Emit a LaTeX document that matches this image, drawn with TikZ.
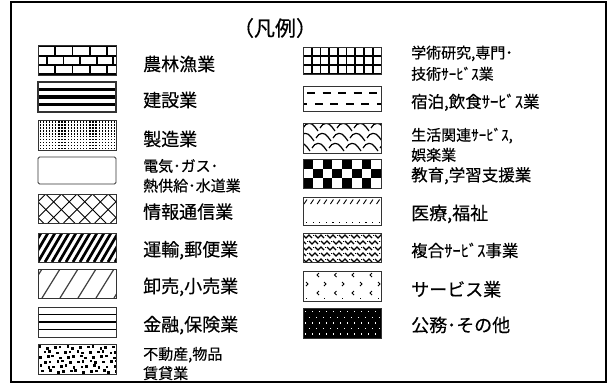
\documentclass[tikz,border=0pt]{standalone}
\usepackage{fontspec}
\setmainfont{Noto Sans CJK JP}[FakeBold=0.35]
\begin{document}
\begin{tikzpicture}[x=1pt,y=-1pt,
  sw/.style={draw=black!80, line width=0.9pt},
  lab/.style={anchor=base west, inner sep=0pt, font=\fontsize{18}{21}\selectfont},
  labsm/.style={anchor=base west, inner sep=0pt, font=\fontsize{15}{18}\selectfont},
  labr/.style={anchor=base west, inner sep=0pt, font=\fontsize{16.5}{19}\selectfont},
  pat/.style={line width=#1, line cap=butt},
  pat/.default=1pt]
\useasboundingbox (0,0) rectangle (614,391);
\fill[white] (0,0) rectangle (614,391);
\draw[line width=1.3pt] (11,2) rectangle (606,382);
\node[inner sep=0pt, font=\fontsize{21}{25}\selectfont] (title) at (275,28) {（凡例）};

% ---------- left column swatches ----------
% 1 brick
\begin{scope}
\clip (38,45) rectangle (116,75);
\foreach \y in {46.5,56,65,74.2} \draw[pat=1.7pt] (38,\y) -- (116,\y);
\foreach \x in {55,72.5,90,107} {\draw[pat=1.7pt] (\x,46.5) -- (\x,56); \draw[pat=1.7pt] (\x,65) -- (\x,74.2);}
\foreach \x in {46.7,63.5,80.3,97,113} {\draw[pat=1.7pt] (\x,56) -- (\x,65); \draw[pat=1.7pt] (\x,45) -- (\x,46.5);}
\end{scope}
\draw[sw] (38,45) rectangle (116,75);
% 2 construction stripes
\begin{scope}
\clip (38,82) rectangle (116,112);
\foreach \y in {89.5,97,104.5} \fill (38,\y-1.7) rectangle (116,\y+1.7);
\end{scope}
\draw[sw, line width=1.2pt] (38,82) rectangle (116,112);
% 3 dots
\begin{scope}
\clip (38,120) rectangle (116,150);
\foreach \i in {0,...,24} \foreach \j in {0,...,9}
  \fill ({39.6+\i*3.1},{121.4+\j*2.95}) rectangle +(1.3,1.3);
\end{scope}
\draw[sw] (38,120) rectangle (116,150);
% 4 blank
\draw[sw, rounded corners=1.5pt] (38,157) rectangle (116,184);
% 5 crosshatch
\begin{scope}
\clip (38,194) rectangle (116,223);
\foreach \k in {-3,...,6} {
  \draw[pat=0.9pt] ({38+\k*15.6-7.8},194) -- ++(29,29);
  \draw[pat=0.9pt] ({38+\k*15.6+7.8},194) -- ++(-29,29);}
\end{scope}
\draw[sw] (38,194) rectangle (116,223);
% 6 dense diagonal
\begin{scope}
\clip (38,233) rectangle (116,262);
\foreach \k in {-3,...,12} \draw[pat=2.7pt] ({38+\k*7},262) -- ++(17,-29);
\end{scope}
\draw[sw] (38,233) rectangle (116,262);
% 7 sparse diagonal
\begin{scope}
\clip (38,269) rectangle (116,298);
\foreach \k in {-2,...,4} \draw[pat=1.2pt, black!75] ({42+\k*18},298) -- ++(18,-29);
\end{scope}
\draw[sw] (38,269) rectangle (116,298);
% 8 horizontal lines
\foreach \y/\w in {314.5/1.2pt,322/1.7pt,329.5/1.2pt} \draw[pat=\w] (38,\y) -- (116,\y);
\draw[sw] (38,307) rectangle (116,337);
% 9 squares
\begin{scope}
\clip (38,344) rectangle (116,374);
\foreach \j in {0,...,5} \foreach \i in {0,...,11} {
  \pgfmathsetmacro{\jx}{mod(\i*7+\j*3,5)*0.7-1.4+mod(\j,2)*3.3}
  \pgfmathsetmacro{\jy}{mod(\i*3+\j*5,4)*0.6-0.9}
  \fill ({39.5+\i*6.6+\jx},{346+\j*4.8+\jy}) rectangle +(2.7,2.7);}
\end{scope}
\draw[sw] (38,344) rectangle (116,374);

% ---------- right column swatches ----------
% 1 grid
\begin{scope}
\clip (303,47) rectangle (381,74);
\foreach \y in {47,56,65,74} \draw[pat=1.8pt] (303,\y) -- (381,\y);
\foreach \k in {1,...,8} \draw[pat=1.8pt] ({303+\k*8.7},47) -- ({303+\k*8.7},74);
\end{scope}
\draw[sw] (303,47) rectangle (381,74);
% 2 dashes
\begin{scope}
\clip (303,86) rectangle (381,111);
\foreach \k in {-1,...,5} {
  \draw[pat=1.8pt] ({307+\k*15.5},93) -- ++(8,0);
  \draw[pat=1.8pt] ({314.8+\k*15.5},104) -- ++(8,0);}
\end{scope}
\draw[sw] (303,86) rectangle (381,111);
% 3 waves
\begin{scope}
\clip (303,123) rectangle (381,153);
\foreach \r in {0,1,2} \foreach \k in {-1,...,5} {
  \pgfmathsetmacro{\wx}{303+\k*17-\r*4}
  \pgfmathsetmacro{\wy}{128+\r*10}
  \draw[pat=1.2pt] (\wx,\wy) .. controls ({\wx+3},{\wy-6}) and ({\wx+9},{\wy-6}) .. ({\wx+12},{\wy-1}) -- ({\wx+15},{\wy+3});}
\end{scope}
\draw[sw] (303,123) rectangle (381,153);
% 4 checkerboard
\begin{scope}
\clip (303,159) rectangle (381,188);
\foreach \i in {0,...,7} \foreach \j in {0,1,2} {
  \pgfmathtruncatemacro{\pp}{mod(\i+\j,2)}
  \ifnum\pp=0 \fill ({303+\i*9.75},{159+\j*9.67}) rectangle +(9.75,9.67); \fi}
\end{scope}
\draw[sw] (303,159) rectangle (381,188);
% 5 ticks
\begin{scope}
\clip (303,197) rectangle (381,225);
\foreach \k in {0,...,11} {
  \draw[pat=0.9pt] ({304+\k*6.6},204) -- ++(3,-4.5);
  \fill ({306+\k*6.6},221.5) rectangle +(1.2,1.2);}
\end{scope}
\draw[sw] (303,197) rectangle (381,225);
% 6 weave
\begin{scope}
\clip (303,233) rectangle (381,262);
\foreach \r in {0,...,4} \foreach \k in {-1,...,6} {
  \pgfmathsetmacro{\vx}{303+\k*12+mod(\r,2)*6}
  \pgfmathsetmacro{\vy}{235+\r*6}
  \draw[pat=1.1pt] (\vx,\vy) -- ++(3,3) -- ++(3,-3) -- ++(3,3);
  \fill ({\vx+9.5},{\vy-0.5}) rectangle +(1.3,1.3);}
\end{scope}
\draw[sw] (303,233) rectangle (381,262);
% 7 arrows
\begin{scope}
\clip (303,271) rectangle (381,301);
\foreach \x in {317,334.5,352,370} {
  \draw[pat=0.9pt] ({\x+2},273) -- (\x,275) -- ({\x+2},277);
  \draw[pat=0.9pt] ({\x+2},291) -- (\x,293) -- ({\x+2},295);}
\foreach \x in {306,324,342,360,378} {
  \draw[pat=0.9pt] (\x,282) -- ({\x+2},284) -- (\x,286);
  \fill (\x,298.2) rectangle +(1.2,1.2);}
\end{scope}
\draw[sw] (303,271) rectangle (381,301);
% 8 black with white dots
\fill[black] (303,308) rectangle (381,338);
\foreach \j in {0,...,4} \foreach \i in {0,...,10} {
  \pgfmathsetmacro{\dx}{305+\i*7+mod(\j,2)*3.5}
  \fill[white] (\dx,{311+\j*5.6}) rectangle +(1.4,1.4);}
\draw[sw] (303,308) rectangle (381,338);

% ---------- labels ----------
\node[lab]   (l1)  at (143,70.8)  {農林漁業};
\node[lab]   (l2)  at (143,106.8) {建設業};
\node[lab]   (l3)  at (143,145.8) {製造業};
\node[labsm] (l4a) at (143,171.6) {電気･ガス･};
\node[labsm] (l4b) at (143,191.3) {熱供給･水道業};
\node[lab]   (l5)  at (143,218.5) {情報通信業};
\node[lab]   (l6)  at (143,256.1) {運輸,郵便業};
\node[lab]   (l7)  at (143,292.8) {卸売,小売業};
\node[lab]   (l8)  at (143,331.1) {金融,保険業};
\node[labsm] (l9a) at (143,359.6) {不動産,物品};
\node[labsm] (l9b) at (143,378.9) {賃貸業};

\node[labsm] (r1a) at (411,58.3)  {学術研究,専門･};
\node[labsm] (r1b) at (411,79.6)  {技術ｻｰﾋﾞｽ業};
\node[labr]  (r2)  at (411,107.8) {宿泊,飲食ｻｰﾋﾞｽ業};
\node[labsm] (r3a) at (411,140.6) {生活関連ｻｰﾋﾞｽ,};
\node[labsm] (r3b) at (411,160.6) {娯楽業};
\node[labr]  (r4)  at (411,181.1) {教育,学習支援業};
\node[lab]   (r5)  at (411,219.8) {医療,福祉};
\node[labr]  (r6)  at (411,256.8) {複合ｻｰﾋﾞｽ事業};
\node[lab]   (r7)  at (411,296.1) {サービス業};
\node[lab]   (r8)  at (411,331.8) {公務･その他};
\end{tikzpicture}
\end{document}
